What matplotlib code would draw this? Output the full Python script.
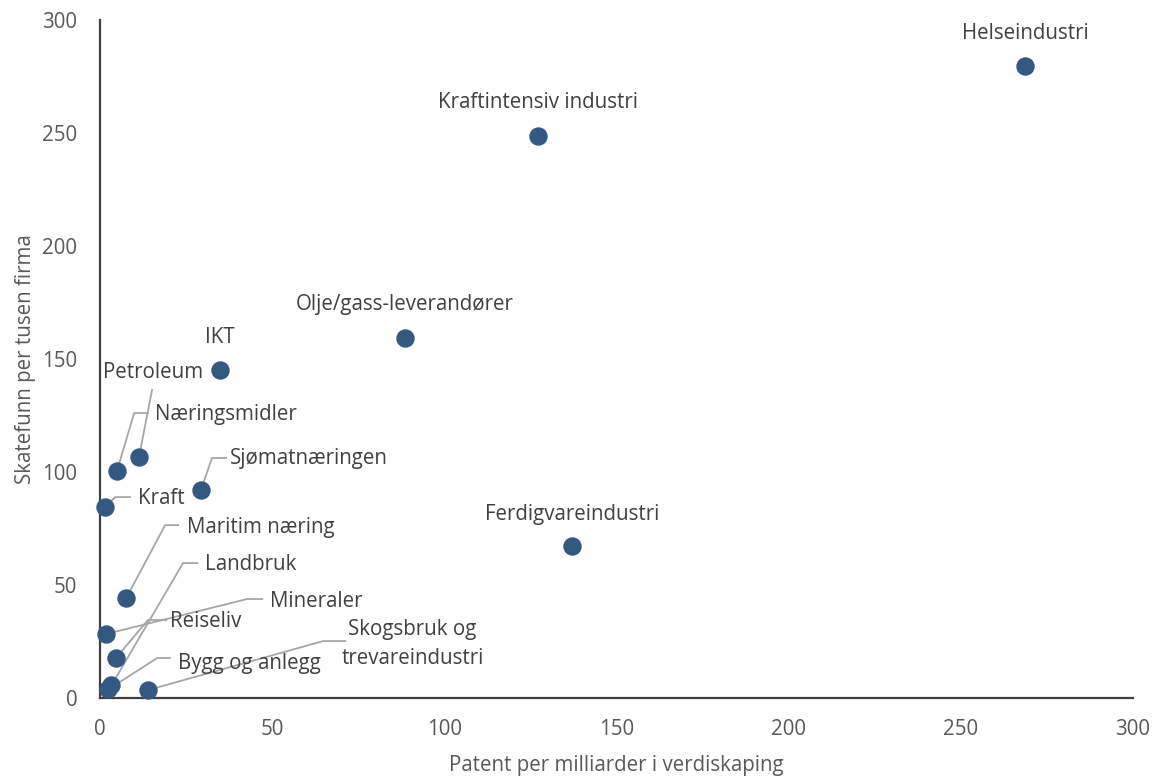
import matplotlib.pyplot as plt

plt.rcParams['font.family'] = ['Open Sans', 'DejaVu Sans']

# næringer: patent per mrd verdiskaping / skatefunn per tusen firma
naering = ['Helseindustri', 'Kraftintensiv industri', 'Olje/gass-leverandører', 'IKT',
           'Ferdigvareindustri', 'Sjømatnæringen', 'Petroleum', 'Næringsmidler', 'Kraft',
           'Maritim næring', 'Mineraler', 'Reiseliv', 'Landbruk', 'Bygg og anlegg',
           'Skogsbruk og\ntrevareindustri']
patent = [268.7, 127.2, 88.6, 34.9, 137.1, 29.3, 11.3, 4.9, 1.5, 7.6, 1.7, 4.6, 3.3, 2.4, 13.9]
skatefunn = [279.6, 248.7, 159.3, 145.1, 67.3, 92.0, 106.6, 100.4, 84.5, 44.2, 28.3, 17.7, 5.6, 3.8, 3.5]

# plassering av etiketter: (x, y, ha, knekkpunkt, linjeslutt) -- None = ingen linje
etikett = {
    'Helseindustri': (268.7, 294.2, 'center', None, None),
    'Kraftintensiv industri': (127.2, 263.3, 'center', None, None),
    'Olje/gass-leverandører': (88.6, 173.9, 'center', None, None),
    'IKT': (34.9, 159.3, 'center', None, None),
    'Ferdigvareindustri': (137.1, 81.4, 'center', None, None),
    'Petroleum': (15.4, 144.2, 'center', None, (15.1, 136.3)),
    'Næringsmidler': (16.0, 125.4, 'left', (9.9, 126.1), (13.9, 126.1)),
    'Sjømatnæringen': (37.8, 106.0, 'left', (32.5, 106.2), (36.6, 106.2)),
    'Kraft': (11.0, 88.5, 'left', (4.4, 88.9), (8.7, 88.9)),
    'Maritim næring': (25.3, 75.5, 'left', (18.9, 76.5), (22.7, 76.5)),
    'Landbruk': (30.5, 59.0, 'left', (24.1, 59.7), (28.2, 59.7)),
    'Mineraler': (49.4, 42.8, 'left', (42.7, 43.8), (47.1, 43.8)),
    'Reiseliv': (20.3, 34.0, 'left', (13.9, 34.5), (19.2, 34.5)),
    'Bygg og anlegg': (22.7, 15.2, 'left', (16.6, 17.7), (20.3, 17.7)),
    'Skogsbruk og\ntrevareindustri': (90.8, 23.8, 'center', (64.8, 25.2), (71.2, 25.2)),
}

fs = 14.8

fig = plt.figure(figsize=(11.58, 7.78), dpi=100)
ax = fig.add_axes([0.0864, 0.1028, 0.892, 0.8715])

for navn, x, y in zip(naering, patent, skatefunn):
    tx, ty, ha, knekk, slutt = etikett[navn]
    if slutt is not None:
        xs = [x] + ([knekk[0]] if knekk else []) + [slutt[0]]
        ys = [y] + ([knekk[1]] if knekk else []) + [slutt[1]]
        ax.plot(xs, ys, color='#A6A6A6', lw=1.3, zorder=2)
    ax.text(tx, ty, navn, ha=ha, va='center', fontsize=fs, color='#404040',
            linespacing=1.5, zorder=4)

ax.scatter(patent, skatefunn, s=150, color='#34587F', zorder=3, clip_on=False)

ax.set_xlim(0, 300)
ax.set_ylim(0, 300)
ax.set_xticks(range(0, 301, 50))
ax.set_yticks(range(0, 301, 50))
ax.tick_params(length=0, labelsize=fs, labelcolor='#595959')
ax.tick_params(axis='x', pad=15)
ax.tick_params(axis='y', pad=16.5)
for s in ['top', 'right']:
    ax.spines[s].set_visible(False)
for s in ['left', 'bottom']:
    ax.spines[s].set_color('#404040')
    ax.spines[s].set_linewidth(1.6)

ax.set_xlabel('Patent per milliarder i verdiskaping', fontsize=fs, color='#595959', labelpad=11)
ax.set_ylabel('Skatefunn per tusen firma', fontsize=fs, color='#595959', labelpad=4)

fig.savefig('out.png', dpi=100)
